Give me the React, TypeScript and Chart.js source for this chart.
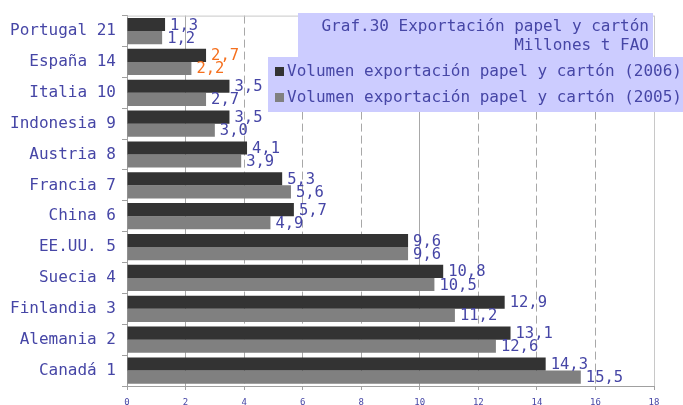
import React, { useEffect, useRef } from "react";
import { Chart, registerables } from "chart.js";

Chart.register(...registerables);

const categories = [
  "Portugal 21",
  "España 14",
  "Italia 10",
  "Indonesia 9",
  "Austria 8",
  "Francia 7",
  "China 6",
  "EE.UU. 5",
  "Suecia 4",
  "Finlandia 3",
  "Alemania 2",
  "Canadá 1",
];
const values2006 = [1.3, 2.7, 3.5, 3.5, 4.1, 5.3, 5.7, 9.6, 10.8, 12.9, 13.1, 14.3];
const values2005 = [1.2, 2.2, 2.7, 3.0, 3.9, 5.6, 4.9, 9.6, 10.5, 11.2, 12.6, 15.5];
const seriesNames = [
  "Volumen exportación papel y cartón (2006)",
  "Volumen exportación papel y cartón (2005)",
];
const titleLines = ["Graf.30 Exportación papel y cartón", "Millones t FAO"];
const xMin = 0;
const xMax = 18;
const xStep = 2;
const highlightCategory = "España 14";
const solidGridValues = [0, 2, 10, 18];

const FONT = '"DejaVu Sans Mono", "Liberation Mono", monospace';
const BLUE = "#4646a6";
const ORANGE = "#f5701e";
const DARK = "#333333";
const GREY = "#808080";
const BOX = "#ccccff";

const fmt = (v: number) => v.toFixed(1).replace(".", ",");

const valueLabels = {
  id: "valueLabels",
  afterDatasetsDraw(chart: any) {
    const ctx = chart.ctx;
    ctx.save();
    ctx.font = `15.5px ${FONT}`;
    ctx.textBaseline = "middle";
    ctx.textAlign = "left";
    chart.data.datasets.forEach((ds: any, di: number) => {
      const meta = chart.getDatasetMeta(di);
      meta.data.forEach((el: any, i: number) => {
        const v = ds.data[i] as number;
        ctx.fillStyle = categories[i] === highlightCategory ? ORANGE : BLUE;
        ctx.fillText(fmt(v), el.x + 5, el.y + 1);
      });
    });
    ctx.restore();
  },
};

const overlay = {
  id: "overlay",
  beforeDatasetsDraw(chart: any) {
    const { ctx, chartArea } = chart;
    ctx.save();
    ctx.strokeStyle = "#c8c8c8";
    ctx.lineWidth = 1;
    ctx.beginPath();
    ctx.moveTo(chartArea.left, chartArea.top + 0.5);
    ctx.lineTo(chartArea.right, chartArea.top + 0.5);
    ctx.stroke();
    ctx.restore();
  },
  afterDraw(chart: any) {
    const ctx = chart.ctx;
    ctx.save();
    // title box
    ctx.fillStyle = BOX;
    ctx.fillRect(298, 13, 355, 45);
    ctx.fillStyle = BLUE;
    ctx.font = `16px ${FONT}`;
    ctx.textAlign = "right";
    ctx.textBaseline = "alphabetic";
    ctx.fillText(titleLines[0], 649, 31);
    ctx.fillText(titleLines[1], 649, 50);
    // legend box
    ctx.fillStyle = BOX;
    ctx.fillRect(268, 57, 420, 55);
    const colors = [DARK, GREY];
    seriesNames.forEach((name, i) => {
      const y = 76 + i * 26;
      ctx.fillStyle = colors[i];
      ctx.fillRect(275, y - 9, 9, 9);
      ctx.fillStyle = BLUE;
      ctx.textAlign = "left";
      ctx.fillText(name, 287, y);
    });
    ctx.restore();
  },
};

export default function App() {
  const ref = useRef<HTMLCanvasElement | null>(null);

  useEffect(() => {
    if (!ref.current) return;
    const chart = new Chart(ref.current, {
      type: "bar",
      data: {
        labels: categories,
        datasets: [
          {
            label: seriesNames[0],
            data: values2006,
            backgroundColor: DARK,
            borderWidth: 0,
            barPercentage: 1,
            categoryPercentage: 0.85,
          },
          {
            label: seriesNames[1],
            data: values2005,
            backgroundColor: GREY,
            borderWidth: 0,
            barPercentage: 1,
            categoryPercentage: 0.85,
          },
        ],
      },
      options: {
        indexAxis: "y",
        responsive: false,
        animation: false,
        devicePixelRatio: 1,
        layout: { padding: { left: 0, right: 29, top: 15, bottom: 0 } },
        plugins: {
          legend: { display: false },
          title: { display: false },
          tooltip: { enabled: false },
        },
        scales: {
          x: {
            min: xMin,
            max: xMax,
            ticks: {
              stepSize: xStep,
              color: BLUE,
              font: { family: FONT, size: 9 },
              padding: 7,
            },
            grid: {
              color: (c: any) => (c.tick && c.tick.value === xMax ? "#c8c8c8" : "#a8a8a8"),
              tickColor: "#a0a0a0",
              tickLength: 4,
              lineWidth: 1,
            },
            border: {
              display: true,
              color: "#a0a0a0",
              width: 1,
              dash: (c: any) =>
                c.tick && solidGridValues.includes(c.tick.value) ? [] : [8, 4],
            },
            afterFit: (scale: any) => {
              scale.height = 19;
            },
          },
          y: {
            ticks: {
              color: BLUE,
              font: { family: FONT, size: 16 },
              padding: 6,
            },
            grid: {
              drawOnChartArea: false,
              offset: true,
              tickLength: 5,
              tickColor: "#a0a0a0",
            },
            border: { display: true, color: "#a0a0a0", width: 1 },
            afterFit: (scale: any) => {
              scale.width = 127;
            },
          },
        },
      },
      plugins: [valueLabels, overlay],
    } as any);
    return () => chart.destroy();
  }, []);

  return (
    <div style={{ position: "fixed", left: 0, top: 0, width: 683, height: 405, background: "#fff" }}>
      <canvas ref={ref} width={683} height={405} style={{ display: "block" }} />
    </div>
  );
}
